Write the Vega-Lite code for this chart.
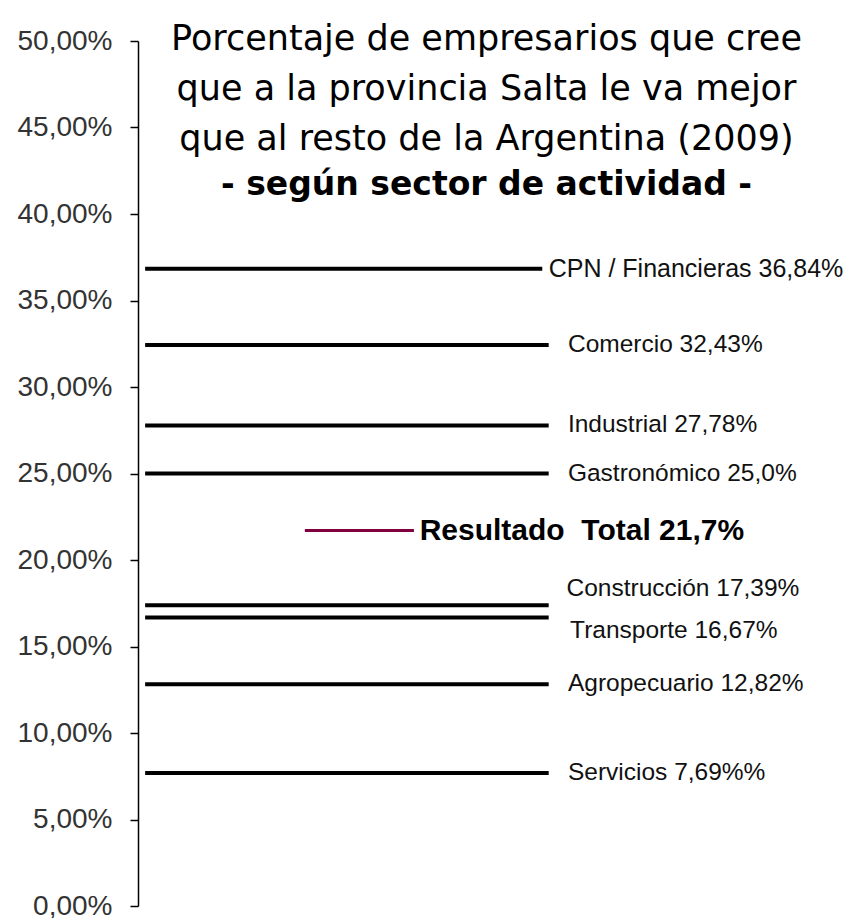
{
  "$schema": "https://vega.github.io/schema/vega-lite/v6.json",
  "width": 713,
  "height": 865,
  "autosize": {"type": "none"},
  "padding": {"left": 138, "top": 41, "right": 0, "bottom": 12},
  "background": "white",
  "config": {"view": {"stroke": null}, "font": "Liberation Sans"},
  "title": {
    "text": ["Porcentaje de empresarios que cree", "que a la provincia Salta le va mejor", "que al resto de la Argentina (2009)"],
    "subtitle": "- según sector de actividad -",
    "font": "DejaVu Sans",
    "fontSize": 35,
    "fontWeight": "normal",
    "lineHeight": 50,
    "color": "black",
    "subtitleFont": "DejaVu Sans",
    "subtitleFontSize": 33,
    "subtitleFontWeight": "bold",
    "subtitleColor": "black",
    "subtitlePadding": 12,
    "anchor": "middle",
    "frame": "group",
    "offset": -175,
    "dx": -8
  },
  "data": {
    "values": [
      {"sector": "CPN / Financieras", "porcentaje": 36.84, "etiqueta": "CPN / Financieras 36,84%", "tipo": "sector"},
      {"sector": "Comercio", "porcentaje": 32.43, "etiqueta": "Comercio 32,43%", "tipo": "sector"},
      {"sector": "Industrial", "porcentaje": 27.78, "etiqueta": "Industrial 27,78%", "tipo": "sector"},
      {"sector": "Gastronómico", "porcentaje": 25.0, "etiqueta": "Gastronómico 25,0%", "tipo": "sector"},
      {"sector": "Resultado Total", "porcentaje": 21.7, "etiqueta": "Resultado\u00a0 Total 21,7%", "tipo": "total"},
      {"sector": "Construcción", "porcentaje": 17.39, "etiqueta": "Construcción 17,39%", "tipo": "sector"},
      {"sector": "Transporte", "porcentaje": 16.67, "etiqueta": "Transporte 16,67%", "tipo": "sector"},
      {"sector": "Agropecuario", "porcentaje": 12.82, "etiqueta": "Agropecuario 12,82%", "tipo": "sector"},
      {"sector": "Servicios", "porcentaje": 7.69, "etiqueta": "Servicios 7,69%%", "tipo": "sector"}
    ]
  },
  "layer": [
    {
      "transform": [{"filter": "datum.tipo == 'sector' && datum.sector != 'CPN / Financieras'"}],
      "mark": {"type": "rule", "color": "black", "strokeWidth": 4},
      "encoding": {
        "x": {"datum": 1, "type": "quantitative", "scale": {"domain": [0, 100]}, "axis": null},
        "x2": {"datum": 57.6},
        "y": {
          "field": "porcentaje",
          "type": "quantitative",
          "scale": {"domain": [0, 50], "nice": false, "zero": true},
          "axis": {
            "title": null,
            "values": [0, 5, 10, 15, 20, 25, 30, 35, 40, 45, 50],
            "labelExpr": "replace(format(datum.value, '.2f'), '.', ',') + '%'",
            "grid": false,
            "domainColor": "black",
            "domainWidth": 1.5,
            "tickColor": "black",
            "tickWidth": 1.5,
            "tickSize": 8,
            "labelPadding": 18,
            "labelFont": "Liberation Sans",
            "labelFontSize": 28,
            "labelColor": "#333333",
            "labelBaseline": "middle"
          }
        }
      }
    },
    {
      "transform": [{"filter": "datum.sector == 'CPN / Financieras'"}],
      "mark": {"type": "rule", "color": "black", "strokeWidth": 4},
      "encoding": {
        "x": {"datum": 1, "type": "quantitative"},
        "x2": {"datum": 56.7},
        "y": {"field": "porcentaje", "type": "quantitative"}
      }
    },
    {
      "transform": [{"filter": "datum.tipo == 'total'"}],
      "mark": {"type": "rule", "color": "#800040", "strokeWidth": 3},
      "encoding": {
        "x": {"datum": 23.4, "type": "quantitative"},
        "x2": {"datum": 38.7},
        "y": {"field": "porcentaje", "type": "quantitative"}
      }
    },
    {
      "transform": [{"filter": "datum.tipo == 'sector' && datum.sector != 'CPN / Financieras' && datum.sector != 'Construcción' && datum.sector != 'Transporte'"}],
      "mark": {"type": "text", "align": "left", "baseline": "middle", "fontSize": 24.5, "font": "Liberation Sans", "color": "#111111"},
      "encoding": {
        "x": {"datum": 60.3, "type": "quantitative"},
        "y": {"field": "porcentaje", "type": "quantitative"},
        "text": {"field": "etiqueta"}
      }
    },
    {
      "transform": [{"filter": "datum.sector == 'CPN / Financieras'"}],
      "mark": {"type": "text", "align": "left", "baseline": "middle", "fontSize": 25, "font": "Liberation Sans", "color": "#111111"},
      "encoding": {
        "x": {"datum": 57.6, "type": "quantitative"},
        "y": {"field": "porcentaje", "type": "quantitative"},
        "text": {"field": "etiqueta"}
      }
    },
    {
      "transform": [{"filter": "datum.sector == 'Construcción'"}],
      "mark": {"type": "text", "align": "left", "baseline": "middle", "fontSize": 24.5, "font": "Liberation Sans", "color": "#111111", "dy": -16},
      "encoding": {
        "x": {"datum": 60.1, "type": "quantitative"},
        "y": {"field": "porcentaje", "type": "quantitative"},
        "text": {"field": "etiqueta"}
      }
    },
    {
      "transform": [{"filter": "datum.sector == 'Transporte'"}],
      "mark": {"type": "text", "align": "left", "baseline": "middle", "fontSize": 24.5, "font": "Liberation Sans", "color": "#111111", "dy": 13},
      "encoding": {
        "x": {"datum": 60.6, "type": "quantitative"},
        "y": {"field": "porcentaje", "type": "quantitative"},
        "text": {"field": "etiqueta"}
      }
    },
    {
      "transform": [{"filter": "datum.tipo == 'total'"}],
      "mark": {"type": "text", "align": "left", "baseline": "middle", "fontSize": 30, "fontWeight": "bold", "font": "Liberation Sans", "color": "black"},
      "encoding": {
        "x": {"datum": 39.5, "type": "quantitative"},
        "y": {"field": "porcentaje", "type": "quantitative"},
        "text": {"field": "etiqueta"}
      }
    }
  ]
}
